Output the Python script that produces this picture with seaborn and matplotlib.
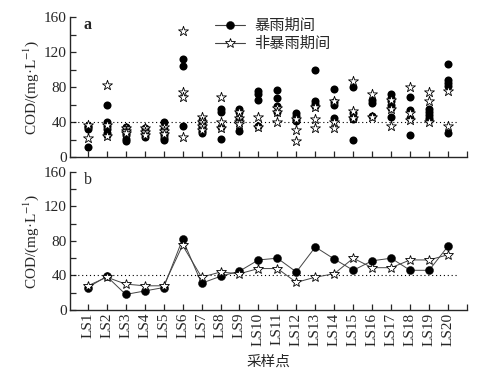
import numpy as np
import pandas as pd
import matplotlib
matplotlib.use("Agg")
import matplotlib.pyplot as plt
from matplotlib.lines import Line2D
from matplotlib.ticker import MultipleLocator
import seaborn as sns

# ---- data -------------------------------------------------------------
sites = ["LS%d" % i for i in range(1, 21)]

# (a) individual samples, COD mg/L
storm_a = [
    [11, 32, 34, 36], [60, 40, 35, 32, 28, 25], [18, 21, 25, 28, 31, 34],
    [23, 26, 30, 33], [40, 32, 28, 25, 22, 20], [112, 104, 35],
    [28, 30, 33, 36, 39, 42], [55, 52, 34, 21], [55, 52, 44, 30],
    [76, 72, 65, 36], [77, 68, 58, 52], [50, 47, 44, 41], [100, 64, 61, 58],
    [78, 63, 59, 45], [80, 50, 46, 44, 19], [65, 62, 47],
    [72, 68, 64, 60, 56, 46], [69, 54, 45, 25], [55, 52, 48, 45, 42],
    [106, 88, 85, 81, 28],
]
nonstorm_a = [
    [22, 37], [82, 37, 24], [33, 30, 27], [33, 29, 25], [34, 30, 26],
    [144, 74, 69, 23], [46, 40, 35, 31], [69, 40, 33], [52, 45, 40, 38],
    [46, 34], [56, 52, 40], [44, 31, 18], [57, 43, 33], [64, 40, 33],
    [87, 53, 45], [72, 46], [65, 55, 36], [80, 50, 42], [74, 64, 40],
    [76, 35],
]

# (b) mean values
storm_b = [26, 39, 18, 22, 26, 82, 31, 39, 45, 58, 60, 44, 73, 59, 46, 57,
           60, 46, 46, 74]
nonstorm_b = [28, 38, 30, 28, 28, 75, 38, 44, 42, 48, 48, 32, 38, 42, 60, 49,
              49, 58, 58, 64]

limit = 40
lab_storm = "暴雨期间"
lab_non = "非暴雨期间"

# ---- tables -----------------------------------------------------------
def long_table(values):
    rows = [(s, v) for s, vs in zip(sites, values) for v in vs]
    return pd.DataFrame(rows, columns=["site", "cod"])

da_storm = long_table(storm_a)
da_non = long_table(nonstorm_a)
db_storm = pd.DataFrame({"site": sites, "cod": storm_b})
db_non = pd.DataFrame({"site": sites, "cod": nonstorm_b})

# ---- style ------------------------------------------------------------
sns.set_style("ticks")
plt.rcParams["font.family"] = ["Liberation Serif", "Noto Sans CJK SC"]
plt.rcParams["mathtext.fontset"] = "stix"
plt.rcParams["axes.linewidth"] = 1.0

fig = plt.figure(figsize=(4.88, 3.73), dpi=100)
ax_a = fig.add_axes([0.143, 0.579, 0.814, 0.375])
ax_b = fig.add_axes([0.143, 0.169, 0.814, 0.370])

circ = 5.8   # marker sizes (pt)
star = 7.5

# panel a
sns.stripplot(data=da_storm, x="site", y="cod", order=sites, jitter=False,
              color="black", marker="o", size=circ, linewidth=0, ax=ax_a,
              zorder=3)
sns.stripplot(data=da_non, x="site", y="cod", order=sites, jitter=False,
              color="white", edgecolor="black", linewidth=0.6, marker="*",
              size=star, ax=ax_a, zorder=4)

# panel b
sns.pointplot(data=db_storm, x="site", y="cod", order=sites, errorbar=None,
              color="#444444", markers="o", linestyles="-", ax=ax_b,
              markersize=circ, markerfacecolor="black", markeredgecolor="black",
              markeredgewidth=0.3, linewidth=0.7, zorder=3)
sns.pointplot(data=db_non, x="site", y="cod", order=sites, errorbar=None,
              color="#444444", markers="*", linestyles="-", ax=ax_b,
              markersize=star, markerfacecolor="white", markeredgecolor="black",
              markeredgewidth=0.6, linewidth=0.7, zorder=4)

for ax, tag in ((ax_a, "a"), (ax_b, "b")):
    ax.axhline(limit, color="black", linestyle=(0, (1, 2.5)), linewidth=0.8,
               xmax=0.975, zorder=1)
    ax.set_xlim(-0.95, 20)
    ax.set_ylim(0, 160)
    ax.yaxis.set_major_locator(MultipleLocator(40))
    ax.yaxis.set_minor_locator(MultipleLocator(20))
    ax.set_xticks(list(range(21)))
    ax.tick_params(axis="both", which="both", direction="in", length=4,
                   width=0.9, labelsize=11, pad=2)
    ax.set_ylabel("COD/(mg·L$^{-1}$)", fontsize=11, labelpad=2)
    ax.text(0.035, 1.0, tag, transform=ax.transAxes, fontsize=11.5,
            va="top", ha="left", fontweight="bold" if tag == "a" else "normal")
    sns.despine(ax=ax)
    ax.set_xlabel("")

ax_a.set_xticklabels([])
ax_b.set_xticklabels(sites + [""], rotation=90)
ax_b.set_xlabel("采样点", fontsize=10.5, labelpad=7)

handles = [
    Line2D([], [], color="#444444", lw=0.8, marker="o", markersize=circ,
           markerfacecolor="black", markeredgecolor="black",
           markeredgewidth=0.3),
    Line2D([], [], color="#444444", lw=0.8, marker="*", markersize=star,
           markerfacecolor="white", markeredgecolor="black",
           markeredgewidth=0.6),
]
ax_a.legend(handles, [lab_storm, lab_non], loc="upper left",
            bbox_to_anchor=(0.33, 1.085), frameon=False, fontsize=11,
            handlelength=2.0, handletextpad=0.6, labelspacing=0.25)

fig.savefig("out.png", dpi=100)
